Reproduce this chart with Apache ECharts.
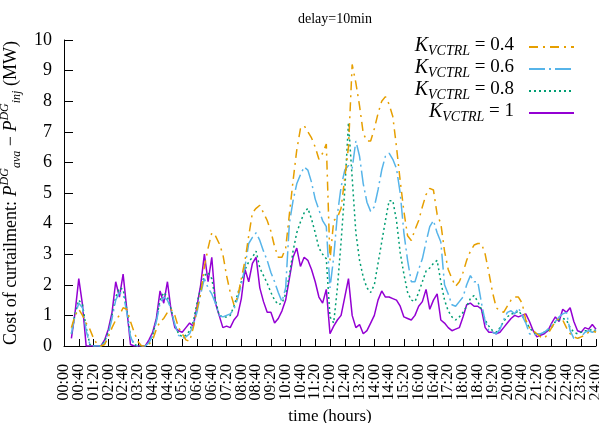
<!DOCTYPE html>
<html>
<head>
<meta charset="utf-8">
<script src="https://cdn.jsdelivr.net/npm/echarts@6/dist/echarts.min.js"></script>
<style>html,body{margin:0;padding:0;background:#fff}#c{width:599px;height:423px}</style>
</head>
<body>
<div id="c"></div>
<script>
// time grid: every 10 minutes from 00:00 to 24:00
function hhmm(m){ const h = Math.floor(m/60), mm = m%60; return String(h).padStart(2,'0')+':'+String(mm).padStart(2,'0'); }
const times = Array.from({length: 145}, (_, i) => hhmm(i * 10));
const seriesNames = ['0.4', '0.6', '0.8', '1'];
const yTicks = [0,1,2,3,4,5,6,7,8,9,10];

const k04 = [null,null,0.6,1.0,1.2,1.0,0.75,0.55,0.25,0.05,0,0.05,0.3,0.6,0.85,1.0,1.25,1.2,0.8,0.45,0.15,0,0,0.05,0.2,0.55,0.8,0.9,1.1,1.2,1.0,0.6,0.4,0.2,0.15,0.6,1.2,1.7,2.6,3.2,3.7,3.6,3.35,3.0,2.3,1.75,1.35,1.6,2.2,2.8,3.6,4.35,4.5,4.6,4.35,4.1,3.75,3.25,2.9,2.9,3.2,4.3,5.4,6.4,7.1,7.2,7.0,6.8,6.5,6.1,6.3,6.6,2.8,4.1,4.2,4.5,5.5,6.5,9.2,8.6,7.85,6.95,6.7,6.7,7.1,7.6,8.0,8.15,7.9,7.5,6.5,5.4,4.4,3.6,3.45,3.8,4.1,4.55,4.95,5.15,5.1,4.3,4.0,3.1,2.5,2.2,1.95,2.1,2.4,2.8,3.1,3.3,3.35,3.35,3.0,2.4,1.75,1.25,1.15,1.1,1.3,1.5,1.6,1.6,1.4,0.85,0.6,0.5,0.4,0.3,0.25,0.4,0.6,0.8,0.9,0.85,0.6,0.4,0.3,0.25,0.3,0.35,0.45,0.5,0.45];
const k06 = [null,null,0.4,1.0,1.4,1.25,0.5,0.05,0,0,0,0.1,0.4,0.9,1.5,1.75,1.7,1.1,0.3,0.05,0,0,0,0.1,0.35,0.8,1.4,1.6,1.5,1.2,0.7,0.35,0.25,0.3,0.4,0.7,1.1,1.7,2.2,1.9,1.7,1.4,1.0,0.95,1.0,1.05,1.2,1.55,2.0,2.6,3.35,3.55,3.7,3.45,3.1,2.8,2.4,2.1,1.75,1.45,1.9,4.0,4.75,5.3,5.6,5.85,5.75,5.35,4.8,4.45,4.1,3.9,1.9,2.9,4.3,5.2,5.75,5.9,5.8,6.7,6.2,5.3,4.7,4.4,4.55,5.1,5.75,6.2,6.3,6.1,5.8,5.0,3.7,2.8,2.1,2.1,2.5,2.85,3.4,3.9,4.1,3.7,3.4,2.0,1.7,1.35,1.3,1.45,1.6,2.0,2.3,2.1,2.1,1.4,0.8,0.5,0.45,0.4,0.55,0.85,1.1,1.15,1.05,1.25,1.0,0.75,0.4,0.35,0.4,0.4,0.45,0.55,0.7,0.8,0.95,1.05,1.1,0.5,0.25,0.25,0.3,0.45,0.5,0.45,0.5];
const k08 = [null,null,0.4,1.05,1.5,1.35,0.6,0.05,0,0,0,0.15,0.45,1.0,1.6,1.9,1.85,1.2,0.3,0.05,0,0,0,0.1,0.35,0.85,1.5,1.75,1.6,1.2,0.7,0.4,0.3,0.35,0.5,0.8,1.4,1.9,2.3,2.4,2.2,1.5,1.0,0.95,0.95,1.0,1.3,1.7,2.1,2.5,2.75,2.9,3.1,2.55,2.3,2.05,1.75,1.5,1.35,1.4,1.7,2.3,3.1,3.7,4.05,4.35,4.5,4.15,3.7,3.2,3.0,2.85,0.95,0.75,1.9,3.4,5.1,7.3,5.5,3.7,2.8,2.25,1.9,1.75,2.0,2.7,3.4,4.1,4.75,4.75,4.1,3.05,2.35,1.75,1.5,1.45,1.75,2.1,2.45,2.55,2.7,2.8,2.1,1.5,1.15,0.95,0.85,0.95,1.1,1.3,1.55,1.65,1.45,1.2,0.85,0.65,0.5,0.45,0.6,0.8,0.95,1.05,1.05,1.15,1.0,0.8,0.6,0.45,0.4,0.4,0.45,0.5,0.6,0.8,0.85,0.9,0.85,0.6,0.45,0.4,0.45,0.5,0.5,0.55,0.5];
const k10 = [null,null,0.25,1.1,2.2,1.35,0,0,0,0,0,0.2,0.55,1.1,2.1,1.6,2.35,1.2,0.05,0,0,0,0,0.2,0.45,0.9,1.8,1.4,2.1,1.15,0.6,0.5,0.45,0.6,0.75,0.65,1.3,2.0,3.0,2.1,2.9,1.4,1.0,0.6,0.65,0.6,0.85,1.0,1.55,2.5,2.1,2.7,2.9,1.9,1.45,1.1,1.1,0.75,0.9,1.15,1.5,2.2,2.9,3.2,2.6,2.9,2.8,2.5,2.1,1.6,1.4,1.85,0.4,0.65,0.85,1.0,1.6,2.2,1.0,0.6,0.7,0.4,0.5,0.75,1.0,1.5,1.8,1.6,1.6,1.55,1.5,1.3,0.95,0.9,0.85,1.0,1.3,1.45,1.85,1.2,1.5,1.7,0.85,0.75,0.6,0.5,0.55,0.6,0.95,1.35,1.4,1.3,1.3,1.2,0.6,0.45,0.45,0.4,0.45,0.6,0.75,0.9,1.0,0.95,1.0,1.05,0.8,0.5,0.3,0.35,0.4,0.5,0.75,0.95,0.8,1.2,1.1,1.25,0.8,0.5,0.45,0.6,0.55,0.7,0.55];

const colors = ['#E69F00', '#56B4E9', '#009E73', '#9400D3'];
const dashes = [[9,5,2,5],[16,4,2,4],[2,3],'solid'];
const allData = [k04, k06, k08, k10];

const FONT = 'Liberation Serif';
const xLabelStyle = {rotate: 90, fontFamily: FONT, fontSize: 16, color: '#000', margin: 18, hideOverlap: false};

const chart = echarts.init(document.getElementById('c'), null, {renderer:'canvas'});
chart.setOption({
  animation: false,
  backgroundColor: '#fff',
  title: {
    text: 'delay=10min', left: 330, top: 7, textAlign: 'center',
    textStyle: {fontFamily: FONT, fontSize: 14, fontWeight: 'normal', color: '#000'}
  },
  legend: {
    orient: 'vertical', right: 24, top: 36, align: 'right', padding: 0,
    itemWidth: 45, itemHeight: 14, itemGap: 0,
    itemStyle: {opacity: 0},
    data: seriesNames.map(n => 'K=' + n),
    formatter: name => '{k|K}{s|VCTRL}{e| = ' + name.slice(2) + '}',
    textStyle: {
      fontFamily: FONT, fontSize: 18, color: '#000', padding: [0, 10, 0, 0],
      rich: {
        k: {fontFamily: FONT, fontStyle: 'italic', fontSize: 20, lineHeight: 22, color: '#000', verticalAlign: 'top'},
        s: {fontFamily: FONT, fontStyle: 'italic', fontSize: 14, lineHeight: 13, color: '#000', verticalAlign: 'bottom'},
        e: {fontFamily: FONT, fontSize: 19, lineHeight: 22, color: '#000', verticalAlign: 'top'}
      }
    }
  },
  grid: {left: 64, right: 3, top: 40, bottom: 77, containLabel: false, outerBoundsMode: 'none'},
  xAxis: [{
    type: 'category', data: times, boundaryGap: false, position: 'bottom',
    name: 'time (hours)', nameLocation: 'middle', nameGap: 56,
    nameTextStyle: {fontFamily: FONT, fontSize: 17, color: '#000'},
    axisLine: {show: true, lineStyle: {color: '#000', width: 1}},
    axisTick: {show: true, inside: true, length: 7, interval: 3, lineStyle: {color: '#000'}},
    axisLabel: Object.assign({interval: (i) => i % 8 === 0}, xLabelStyle),
    splitLine: {show: false}
  }, {
    type: 'category', data: times, boundaryGap: false, position: 'bottom', offset: 0,
    axisLine: {show: false}, axisTick: {show: false},
    axisLabel: Object.assign({interval: (i) => i % 8 === 4}, xLabelStyle),
    splitLine: {show: false}
  }],
  yAxis: {
    type: 'value', min: yTicks[0], max: yTicks[yTicks.length-1], interval: 1,
    name: '{t|Cost of curtailment: }{p|P}{sup|DG}{sub|ava}{t| − }{p|P}{sup|DG}{sub|inj}{t| (MW)}',
    nameLocation: 'middle', nameGap: 38, nameRotate: 90,
    nameTextStyle: {
      fontFamily: FONT, fontSize: 18, color: '#000',
      rich: {
        t: {fontFamily: FONT, fontSize: 18, lineHeight: 24, verticalAlign: 'middle', color: '#000'},
        p: {fontFamily: FONT, fontSize: 18, fontStyle: 'italic', lineHeight: 24, verticalAlign: 'middle', color: '#000'},
        sup: {fontFamily: FONT, fontSize: 12, fontStyle: 'italic', lineHeight: 11, verticalAlign: 'top', color: '#000'},
        sub: {fontFamily: FONT, fontSize: 12, fontStyle: 'italic', lineHeight: 11, verticalAlign: 'bottom', color: '#000'}
      }
    },
    axisLine: {show: true, lineStyle: {color: '#000', width: 1}},
    axisTick: {show: true, inside: true, length: 9, lineStyle: {color: '#000'}},
    axisLabel: {fontFamily: FONT, fontSize: 18, color: '#000', margin: 12, showMinLabel: true, showMaxLabel: true},
    splitLine: {show: false}
  },
  series: allData.map((d, i) => ({
    name: 'K=' + seriesNames[i],
    type: 'line',
    xAxisIndex: 0,
    data: d,
    showSymbol: false,
    symbol: 'none',
    connectNulls: false,
    z: 10 - i,
    lineStyle: {color: colors[i], width: 1.5, type: dashes[i]},
    itemStyle: {color: colors[i]}
  }))
});
</script>
</body>
</html>
